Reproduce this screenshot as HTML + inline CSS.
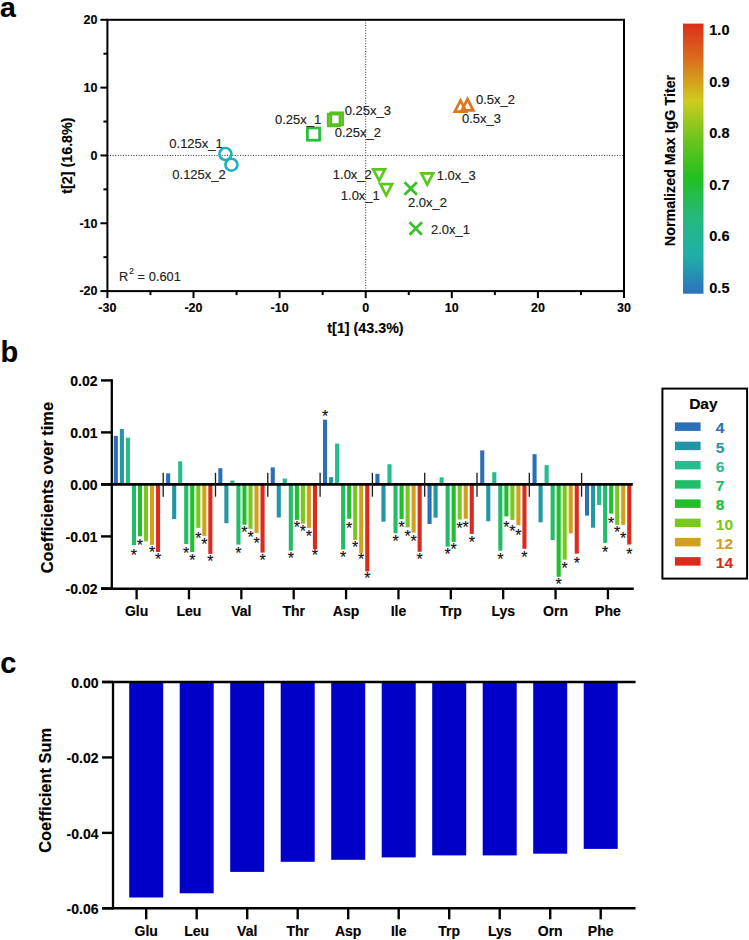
<!DOCTYPE html>
<html><head><meta charset="utf-8"><style>
html,body{margin:0;padding:0;background:#fff;width:749px;height:940px;overflow:hidden}
svg{display:block}
text{font-family:"Liberation Sans", sans-serif}
</style></head><body>
<svg width="749" height="940" viewBox="0 0 749 940">
<text x="0.1" y="16.9" font-size="28.5" font-weight="bold" stroke="#000" stroke-width="0.15">a</text>
<line x1="107.4" y1="155.45" x2="624.0" y2="155.45" stroke="#333" stroke-width="1" stroke-dasharray="1 1.6"/>
<line x1="365.70" y1="19.8" x2="365.70" y2="291.1" stroke="#333" stroke-width="1" stroke-dasharray="1 1.6"/>
<rect x="107.4" y="19.8" width="516.6" height="271.3" fill="none" stroke="#000" stroke-width="2"/>
<line x1="107.40" y1="291.1" x2="107.40" y2="298.1" stroke="#000" stroke-width="2"/>
<text x="107.40" y="312" font-size="12.5" font-weight="bold" text-anchor="middle" stroke="#000" stroke-width="0.15">-30</text>
<line x1="150.45" y1="291.1" x2="150.45" y2="295.1" stroke="#000" stroke-width="2"/>
<line x1="193.50" y1="291.1" x2="193.50" y2="298.1" stroke="#000" stroke-width="2"/>
<text x="193.50" y="312" font-size="12.5" font-weight="bold" text-anchor="middle" stroke="#000" stroke-width="0.15">-20</text>
<line x1="236.55" y1="291.1" x2="236.55" y2="295.1" stroke="#000" stroke-width="2"/>
<line x1="279.60" y1="291.1" x2="279.60" y2="298.1" stroke="#000" stroke-width="2"/>
<text x="279.60" y="312" font-size="12.5" font-weight="bold" text-anchor="middle" stroke="#000" stroke-width="0.15">-10</text>
<line x1="322.65" y1="291.1" x2="322.65" y2="295.1" stroke="#000" stroke-width="2"/>
<line x1="365.70" y1="291.1" x2="365.70" y2="298.1" stroke="#000" stroke-width="2"/>
<text x="365.70" y="312" font-size="12.5" font-weight="bold" text-anchor="middle" stroke="#000" stroke-width="0.15">0</text>
<line x1="408.75" y1="291.1" x2="408.75" y2="295.1" stroke="#000" stroke-width="2"/>
<line x1="451.80" y1="291.1" x2="451.80" y2="298.1" stroke="#000" stroke-width="2"/>
<text x="451.80" y="312" font-size="12.5" font-weight="bold" text-anchor="middle" stroke="#000" stroke-width="0.15">10</text>
<line x1="494.85" y1="291.1" x2="494.85" y2="295.1" stroke="#000" stroke-width="2"/>
<line x1="537.90" y1="291.1" x2="537.90" y2="298.1" stroke="#000" stroke-width="2"/>
<text x="537.90" y="312" font-size="12.5" font-weight="bold" text-anchor="middle" stroke="#000" stroke-width="0.15">20</text>
<line x1="580.95" y1="291.1" x2="580.95" y2="295.1" stroke="#000" stroke-width="2"/>
<line x1="624.00" y1="291.1" x2="624.00" y2="298.1" stroke="#000" stroke-width="2"/>
<text x="624.00" y="312" font-size="12.5" font-weight="bold" text-anchor="middle" stroke="#000" stroke-width="0.15">30</text>
<line x1="100.4" y1="291.10" x2="107.4" y2="291.10" stroke="#000" stroke-width="2"/>
<text x="97.5" y="295.40" font-size="12.5" font-weight="bold" text-anchor="end" stroke="#000" stroke-width="0.15">-20</text>
<line x1="103.4" y1="257.19" x2="107.4" y2="257.19" stroke="#000" stroke-width="2"/>
<line x1="100.4" y1="223.28" x2="107.4" y2="223.28" stroke="#000" stroke-width="2"/>
<text x="97.5" y="227.58" font-size="12.5" font-weight="bold" text-anchor="end" stroke="#000" stroke-width="0.15">-10</text>
<line x1="103.4" y1="189.36" x2="107.4" y2="189.36" stroke="#000" stroke-width="2"/>
<line x1="100.4" y1="155.45" x2="107.4" y2="155.45" stroke="#000" stroke-width="2"/>
<text x="97.5" y="159.75" font-size="12.5" font-weight="bold" text-anchor="end" stroke="#000" stroke-width="0.15">0</text>
<line x1="103.4" y1="121.54" x2="107.4" y2="121.54" stroke="#000" stroke-width="2"/>
<line x1="100.4" y1="87.62" x2="107.4" y2="87.62" stroke="#000" stroke-width="2"/>
<text x="97.5" y="91.92" font-size="12.5" font-weight="bold" text-anchor="end" stroke="#000" stroke-width="0.15">10</text>
<line x1="103.4" y1="53.71" x2="107.4" y2="53.71" stroke="#000" stroke-width="2"/>
<line x1="100.4" y1="19.80" x2="107.4" y2="19.80" stroke="#000" stroke-width="2"/>
<text x="97.5" y="24.10" font-size="12.5" font-weight="bold" text-anchor="end" stroke="#000" stroke-width="0.15">20</text>
<text x="365.5" y="333.3" font-size="14.3" font-weight="bold" text-anchor="middle" stroke="#000" stroke-width="0.15">t[1] (43.3%)</text>
<text transform="translate(71.9 155.6) rotate(-90)" font-size="14.3" font-weight="bold" text-anchor="middle" stroke="#000" stroke-width="0.15">t[2] (16.8%)</text>
<text x="119.1" y="280.9" font-size="12.7" fill="#222" stroke="#222" stroke-width="0.15">R</text>
<text x="129.3" y="274.1" font-size="8.2" fill="#222" stroke="#222" stroke-width="0.15">2</text>
<text x="137.4" y="280.9" font-size="12.7" fill="#222" stroke="#222" stroke-width="0.15">=</text>
<text x="148.8" y="280.9" font-size="12.8" fill="#222" stroke="#222" stroke-width="0.15">0.601</text>
<circle cx="225.4" cy="154" r="6" fill="none" stroke="#1fb1b9" stroke-width="2.6"/>
<circle cx="231.4" cy="164.7" r="6" fill="none" stroke="#1fb1b9" stroke-width="2.6"/>
<rect x="307.4" y="128.0" width="12.2" height="12.2" fill="none" stroke="#24be3a" stroke-width="2.7"/>
<rect x="330.8" y="112.8" width="11.8" height="11.8" fill="none" stroke="#58c01c" stroke-width="2.7"/>
<rect x="328.2" y="114.1" width="11.8" height="11.8" fill="none" stroke="#58c01c" stroke-width="2.7"/>
<path d="M454.80 111.60 L460.50 100.40 L466.20 111.60 Z" fill="none" stroke="#e0761c" stroke-width="2.7" stroke-linejoin="miter"/>
<path d="M461.80 110.30 L467.50 99.10 L473.20 110.30 Z" fill="none" stroke="#e0761c" stroke-width="2.7" stroke-linejoin="miter"/>
<path d="M373.20 169.40 L379.10 180.60 L385.00 169.40 Z" fill="none" stroke="#5cc81e" stroke-width="2.7"/>
<path d="M380.30 184.10 L386.20 195.30 L392.10 184.10 Z" fill="none" stroke="#5cc81e" stroke-width="2.7"/>
<path d="M421.30 173.40 L427.20 184.60 L433.10 173.40 Z" fill="none" stroke="#5cc81e" stroke-width="2.7"/>
<path d="M404.50 182.30 L416.90 194.70 M404.50 194.70 L416.90 182.30" fill="none" stroke="#38c22a" stroke-width="2.7"/>
<path d="M409.50 222.30 L421.90 234.70 M409.50 234.70 L421.90 222.30" fill="none" stroke="#38c22a" stroke-width="2.7"/>
<text x="169.3" y="148.0" font-size="13" fill="#222" stroke="#222" stroke-width="0.15">0.125x_1</text>
<text x="172.3" y="179.0" font-size="13" fill="#222" stroke="#222" stroke-width="0.15">0.125x_2</text>
<text x="275.0" y="124.2" font-size="13" fill="#222" stroke="#222" stroke-width="0.15">0.25x_1</text>
<text x="344.7" y="114.7" font-size="13" fill="#222" stroke="#222" stroke-width="0.15">0.25x_3</text>
<text x="334.7" y="136.5" font-size="13" fill="#222" stroke="#222" stroke-width="0.15">0.25x_2</text>
<text x="476.0" y="104.0" font-size="13" fill="#222" stroke="#222" stroke-width="0.15">0.5x_2</text>
<text x="462.0" y="123.0" font-size="13" fill="#222" stroke="#222" stroke-width="0.15">0.5x_3</text>
<text x="332.8" y="179.4" font-size="13" fill="#222" stroke="#222" stroke-width="0.15">1.0x_2</text>
<text x="340.8" y="200.3" font-size="13" fill="#222" stroke="#222" stroke-width="0.15">1.0x_1</text>
<text x="436.7" y="180.0" font-size="13" fill="#222" stroke="#222" stroke-width="0.15">1.0x_3</text>
<text x="408.0" y="206.7" font-size="13" fill="#222" stroke="#222" stroke-width="0.15">2.0x_2</text>
<text x="431.0" y="233.8" font-size="13" fill="#222" stroke="#222" stroke-width="0.15">2.0x_1</text>
<defs><linearGradient id="cb" x1="0" y1="1" x2="0" y2="0"><stop offset="0" stop-color="#2d70be"/><stop offset="0.142857" stop-color="#1fb0a8"/><stop offset="0.285714" stop-color="#26b87c"/><stop offset="0.428571" stop-color="#22c022"/><stop offset="0.571429" stop-color="#6cc41e"/><stop offset="0.714286" stop-color="#cfcc1e"/><stop offset="0.857143" stop-color="#d9741c"/><stop offset="1" stop-color="#dc2e1c"/></linearGradient></defs>
<rect x="683" y="23.6" width="20.5" height="270.1" fill="url(#cb)"/>
<text x="709.3" y="35.40" font-size="14.5" font-weight="bold" stroke="#000" stroke-width="0.15">1.0</text>
<text x="709.3" y="86.85" font-size="14.5" font-weight="bold" stroke="#000" stroke-width="0.15">0.9</text>
<text x="709.3" y="138.30" font-size="14.5" font-weight="bold" stroke="#000" stroke-width="0.15">0.8</text>
<text x="709.3" y="189.75" font-size="14.5" font-weight="bold" stroke="#000" stroke-width="0.15">0.7</text>
<text x="709.3" y="241.20" font-size="14.5" font-weight="bold" stroke="#000" stroke-width="0.15">0.6</text>
<text x="709.3" y="292.65" font-size="14.5" font-weight="bold" stroke="#000" stroke-width="0.15">0.5</text>
<text transform="translate(675.2 160.5) rotate(-90)" font-size="14.3" font-weight="bold" text-anchor="middle" stroke="#000" stroke-width="0.15">Normalized Max IgG Titer</text>
<text x="0.5" y="362.0" font-size="29" font-weight="bold" stroke="#000" stroke-width="0.15">b</text>
<line x1="101" y1="380.40" x2="111.8" y2="380.40" stroke="#000" stroke-width="2.4"/>
<text x="97.5" y="386.20" font-size="14" font-weight="bold" text-anchor="end" stroke="#000" stroke-width="0.15">0.02</text>
<line x1="101" y1="432.40" x2="111.8" y2="432.40" stroke="#000" stroke-width="2.4"/>
<text x="97.5" y="438.20" font-size="14" font-weight="bold" text-anchor="end" stroke="#000" stroke-width="0.15">0.01</text>
<line x1="101" y1="484.40" x2="111.8" y2="484.40" stroke="#000" stroke-width="2.4"/>
<text x="97.5" y="490.20" font-size="14" font-weight="bold" text-anchor="end" stroke="#000" stroke-width="0.15">0.00</text>
<line x1="101" y1="536.40" x2="111.8" y2="536.40" stroke="#000" stroke-width="2.4"/>
<text x="97.5" y="542.20" font-size="14" font-weight="bold" text-anchor="end" stroke="#000" stroke-width="0.15">-0.01</text>
<line x1="101" y1="588.40" x2="111.8" y2="588.40" stroke="#000" stroke-width="2.4"/>
<text x="97.5" y="594.20" font-size="14" font-weight="bold" text-anchor="end" stroke="#000" stroke-width="0.15">-0.02</text>
<text transform="translate(52.8 487.6) rotate(-90)" font-size="16.4" font-weight="bold" text-anchor="middle" stroke="#000" stroke-width="0.15">Coefficients over time</text>
<rect x="113.80" y="435.80" width="4.1" height="48.60" fill="#2a70b7"/>
<rect x="119.83" y="429.00" width="4.1" height="55.40" fill="#2196a6"/>
<rect x="125.86" y="437.70" width="4.1" height="46.70" fill="#24bd90"/>
<rect x="131.89" y="484.40" width="4.1" height="60.70" fill="#22bd68"/>
<text x="133.94" y="560.60" font-size="16" text-anchor="middle" fill="#111" stroke="#111" stroke-width="0.15">*</text>
<rect x="137.92" y="484.40" width="4.1" height="51.90" fill="#1fc02c"/>
<text x="139.97" y="550.60" font-size="16" text-anchor="middle" fill="#111" stroke="#111" stroke-width="0.15">*</text>
<rect x="143.95" y="484.40" width="4.1" height="57.00" fill="#7ac81c"/>
<rect x="149.98" y="484.40" width="4.1" height="60.40" fill="#d2a01a"/>
<text x="152.03" y="557.80" font-size="16" text-anchor="middle" fill="#111" stroke="#111" stroke-width="0.15">*</text>
<rect x="156.01" y="484.40" width="4.1" height="67.60" fill="#de2a1c"/>
<text x="158.06" y="564.80" font-size="16" text-anchor="middle" fill="#111" stroke="#111" stroke-width="0.15">*</text>
<rect x="166.10" y="473.30" width="4.1" height="11.10" fill="#2a70b7"/>
<rect x="172.13" y="484.40" width="4.1" height="34.70" fill="#2196a6"/>
<rect x="178.16" y="461.30" width="4.1" height="23.10" fill="#24bd90"/>
<rect x="184.19" y="484.40" width="4.1" height="59.60" fill="#22bd68"/>
<text x="186.24" y="558.70" font-size="16" text-anchor="middle" fill="#111" stroke="#111" stroke-width="0.15">*</text>
<rect x="190.22" y="484.40" width="4.1" height="67.60" fill="#1fc02c"/>
<text x="192.27" y="566.20" font-size="16" text-anchor="middle" fill="#111" stroke="#111" stroke-width="0.15">*</text>
<rect x="196.25" y="484.40" width="4.1" height="43.50" fill="#7ac81c"/>
<text x="198.30" y="543.80" font-size="16" text-anchor="middle" fill="#111" stroke="#111" stroke-width="0.15">*</text>
<rect x="202.28" y="484.40" width="4.1" height="51.50" fill="#d2a01a"/>
<text x="204.33" y="549.90" font-size="16" text-anchor="middle" fill="#111" stroke="#111" stroke-width="0.15">*</text>
<rect x="208.31" y="484.40" width="4.1" height="69.50" fill="#de2a1c"/>
<text x="210.36" y="567.30" font-size="16" text-anchor="middle" fill="#111" stroke="#111" stroke-width="0.15">*</text>
<rect x="218.30" y="468.20" width="4.1" height="16.20" fill="#2a70b7"/>
<rect x="224.33" y="484.40" width="4.1" height="38.80" fill="#2196a6"/>
<rect x="230.36" y="480.50" width="4.1" height="3.90" fill="#24bd90"/>
<rect x="236.39" y="484.40" width="4.1" height="60.20" fill="#22bd68"/>
<text x="238.44" y="559.00" font-size="16" text-anchor="middle" fill="#111" stroke="#111" stroke-width="0.15">*</text>
<rect x="242.42" y="484.40" width="4.1" height="40.40" fill="#1fc02c"/>
<text x="244.47" y="538.30" font-size="16" text-anchor="middle" fill="#111" stroke="#111" stroke-width="0.15">*</text>
<rect x="248.45" y="484.40" width="4.1" height="44.40" fill="#7ac81c"/>
<text x="250.50" y="542.70" font-size="16" text-anchor="middle" fill="#111" stroke="#111" stroke-width="0.15">*</text>
<rect x="254.48" y="484.40" width="4.1" height="48.70" fill="#d2a01a"/>
<text x="256.53" y="548.60" font-size="16" text-anchor="middle" fill="#111" stroke="#111" stroke-width="0.15">*</text>
<rect x="260.51" y="484.40" width="4.1" height="68.20" fill="#de2a1c"/>
<text x="262.56" y="566.20" font-size="16" text-anchor="middle" fill="#111" stroke="#111" stroke-width="0.15">*</text>
<rect x="270.70" y="467.40" width="4.1" height="17.00" fill="#2a70b7"/>
<rect x="276.73" y="484.40" width="4.1" height="33.10" fill="#2196a6"/>
<rect x="282.76" y="478.50" width="4.1" height="5.90" fill="#24bd90"/>
<rect x="288.79" y="484.40" width="4.1" height="66.30" fill="#22bd68"/>
<text x="290.84" y="563.50" font-size="16" text-anchor="middle" fill="#111" stroke="#111" stroke-width="0.15">*</text>
<rect x="294.82" y="484.40" width="4.1" height="35.50" fill="#1fc02c"/>
<text x="296.87" y="533.10" font-size="16" text-anchor="middle" fill="#111" stroke="#111" stroke-width="0.15">*</text>
<rect x="300.85" y="484.40" width="4.1" height="39.20" fill="#7ac81c"/>
<text x="302.90" y="537.40" font-size="16" text-anchor="middle" fill="#111" stroke="#111" stroke-width="0.15">*</text>
<rect x="306.88" y="484.40" width="4.1" height="43.50" fill="#d2a01a"/>
<text x="308.93" y="542.20" font-size="16" text-anchor="middle" fill="#111" stroke="#111" stroke-width="0.15">*</text>
<rect x="312.91" y="484.40" width="4.1" height="64.70" fill="#de2a1c"/>
<text x="314.96" y="560.90" font-size="16" text-anchor="middle" fill="#111" stroke="#111" stroke-width="0.15">*</text>
<rect x="323.00" y="419.70" width="4.1" height="64.70" fill="#2a70b7"/>
<text x="325.05" y="421.70" font-size="16" text-anchor="middle" fill="#111" stroke="#111" stroke-width="0.15">*</text>
<rect x="329.03" y="477.20" width="4.1" height="7.20" fill="#2196a6"/>
<rect x="335.06" y="443.50" width="4.1" height="40.90" fill="#24bd90"/>
<rect x="341.09" y="484.40" width="4.1" height="65.10" fill="#22bd68"/>
<text x="343.14" y="562.60" font-size="16" text-anchor="middle" fill="#111" stroke="#111" stroke-width="0.15">*</text>
<rect x="347.12" y="484.40" width="4.1" height="34.40" fill="#1fc02c"/>
<text x="349.17" y="533.80" font-size="16" text-anchor="middle" fill="#111" stroke="#111" stroke-width="0.15">*</text>
<rect x="353.15" y="484.40" width="4.1" height="55.50" fill="#7ac81c"/>
<text x="355.20" y="553.00" font-size="16" text-anchor="middle" fill="#111" stroke="#111" stroke-width="0.15">*</text>
<rect x="359.18" y="484.40" width="4.1" height="68.50" fill="#d2a01a"/>
<text x="361.23" y="565.40" font-size="16" text-anchor="middle" fill="#111" stroke="#111" stroke-width="0.15">*</text>
<rect x="365.21" y="484.40" width="4.1" height="87.10" fill="#de2a1c"/>
<text x="367.26" y="584.20" font-size="16" text-anchor="middle" fill="#111" stroke="#111" stroke-width="0.15">*</text>
<rect x="375.40" y="473.80" width="4.1" height="10.60" fill="#2a70b7"/>
<rect x="381.43" y="484.40" width="4.1" height="37.30" fill="#2196a6"/>
<rect x="387.46" y="464.20" width="4.1" height="20.20" fill="#24bd90"/>
<rect x="393.49" y="484.40" width="4.1" height="48.80" fill="#22bd68"/>
<text x="395.54" y="547.20" font-size="16" text-anchor="middle" fill="#111" stroke="#111" stroke-width="0.15">*</text>
<rect x="399.52" y="484.40" width="4.1" height="34.80" fill="#1fc02c"/>
<text x="401.57" y="533.30" font-size="16" text-anchor="middle" fill="#111" stroke="#111" stroke-width="0.15">*</text>
<rect x="405.55" y="484.40" width="4.1" height="43.00" fill="#7ac81c"/>
<text x="407.60" y="541.50" font-size="16" text-anchor="middle" fill="#111" stroke="#111" stroke-width="0.15">*</text>
<rect x="411.58" y="484.40" width="4.1" height="48.20" fill="#d2a01a"/>
<text x="413.63" y="547.20" font-size="16" text-anchor="middle" fill="#111" stroke="#111" stroke-width="0.15">*</text>
<rect x="417.61" y="484.40" width="4.1" height="67.40" fill="#de2a1c"/>
<text x="419.66" y="565.40" font-size="16" text-anchor="middle" fill="#111" stroke="#111" stroke-width="0.15">*</text>
<rect x="427.50" y="484.40" width="4.1" height="39.60" fill="#2a70b7"/>
<rect x="433.53" y="484.40" width="4.1" height="33.30" fill="#2196a6"/>
<rect x="439.56" y="477.30" width="4.1" height="7.10" fill="#24bd90"/>
<rect x="445.59" y="484.40" width="4.1" height="62.30" fill="#22bd68"/>
<text x="447.64" y="560.30" font-size="16" text-anchor="middle" fill="#111" stroke="#111" stroke-width="0.15">*</text>
<rect x="451.62" y="484.40" width="4.1" height="57.50" fill="#1fc02c"/>
<text x="453.67" y="554.50" font-size="16" text-anchor="middle" fill="#111" stroke="#111" stroke-width="0.15">*</text>
<rect x="457.65" y="484.40" width="4.1" height="35.20" fill="#7ac81c"/>
<text x="459.70" y="533.50" font-size="16" text-anchor="middle" fill="#111" stroke="#111" stroke-width="0.15">*</text>
<rect x="463.68" y="484.40" width="4.1" height="34.40" fill="#d2a01a"/>
<text x="465.73" y="532.70" font-size="16" text-anchor="middle" fill="#111" stroke="#111" stroke-width="0.15">*</text>
<rect x="469.71" y="484.40" width="4.1" height="49.50" fill="#de2a1c"/>
<text x="471.76" y="547.50" font-size="16" text-anchor="middle" fill="#111" stroke="#111" stroke-width="0.15">*</text>
<rect x="480.20" y="450.40" width="4.1" height="34.00" fill="#2a70b7"/>
<rect x="486.23" y="484.40" width="4.1" height="36.80" fill="#2196a6"/>
<rect x="492.26" y="472.20" width="4.1" height="12.20" fill="#24bd90"/>
<rect x="498.29" y="484.40" width="4.1" height="66.30" fill="#22bd68"/>
<text x="500.34" y="564.60" font-size="16" text-anchor="middle" fill="#111" stroke="#111" stroke-width="0.15">*</text>
<rect x="504.32" y="484.40" width="4.1" height="32.00" fill="#1fc02c"/>
<text x="506.37" y="532.70" font-size="16" text-anchor="middle" fill="#111" stroke="#111" stroke-width="0.15">*</text>
<rect x="510.35" y="484.40" width="4.1" height="35.50" fill="#7ac81c"/>
<text x="512.40" y="536.60" font-size="16" text-anchor="middle" fill="#111" stroke="#111" stroke-width="0.15">*</text>
<rect x="516.38" y="484.40" width="4.1" height="40.80" fill="#d2a01a"/>
<text x="518.43" y="541.10" font-size="16" text-anchor="middle" fill="#111" stroke="#111" stroke-width="0.15">*</text>
<rect x="522.41" y="484.40" width="4.1" height="64.40" fill="#de2a1c"/>
<text x="524.46" y="563.00" font-size="16" text-anchor="middle" fill="#111" stroke="#111" stroke-width="0.15">*</text>
<rect x="532.50" y="454.20" width="4.1" height="30.20" fill="#2a70b7"/>
<rect x="538.53" y="484.40" width="4.1" height="37.90" fill="#2196a6"/>
<rect x="544.56" y="465.10" width="4.1" height="19.30" fill="#24bd90"/>
<rect x="550.59" y="484.40" width="4.1" height="55.70" fill="#22bd68"/>
<rect x="556.62" y="484.40" width="4.1" height="92.40" fill="#1fc02c"/>
<text x="558.67" y="590.20" font-size="16" text-anchor="middle" fill="#111" stroke="#111" stroke-width="0.15">*</text>
<rect x="562.65" y="484.40" width="4.1" height="75.30" fill="#7ac81c"/>
<text x="564.70" y="573.60" font-size="16" text-anchor="middle" fill="#111" stroke="#111" stroke-width="0.15">*</text>
<rect x="568.68" y="484.40" width="4.1" height="49.00" fill="#d2a01a"/>
<rect x="574.71" y="484.40" width="4.1" height="69.20" fill="#de2a1c"/>
<text x="576.76" y="569.00" font-size="16" text-anchor="middle" fill="#111" stroke="#111" stroke-width="0.15">*</text>
<rect x="585.00" y="484.40" width="4.1" height="31.20" fill="#2a70b7"/>
<rect x="591.03" y="484.40" width="4.1" height="43.30" fill="#2196a6"/>
<rect x="597.06" y="484.40" width="4.1" height="20.70" fill="#24bd90"/>
<rect x="603.09" y="484.40" width="4.1" height="58.50" fill="#22bd68"/>
<text x="605.14" y="557.50" font-size="16" text-anchor="middle" fill="#111" stroke="#111" stroke-width="0.15">*</text>
<rect x="609.12" y="484.40" width="4.1" height="29.20" fill="#1fc02c"/>
<text x="611.17" y="528.50" font-size="16" text-anchor="middle" fill="#111" stroke="#111" stroke-width="0.15">*</text>
<rect x="615.15" y="484.40" width="4.1" height="40.50" fill="#7ac81c"/>
<text x="617.20" y="538.00" font-size="16" text-anchor="middle" fill="#111" stroke="#111" stroke-width="0.15">*</text>
<rect x="621.18" y="484.40" width="4.1" height="40.50" fill="#d2a01a"/>
<text x="623.23" y="544.10" font-size="16" text-anchor="middle" fill="#111" stroke="#111" stroke-width="0.15">*</text>
<rect x="627.21" y="484.40" width="4.1" height="60.10" fill="#de2a1c"/>
<text x="629.26" y="559.90" font-size="16" text-anchor="middle" fill="#111" stroke="#111" stroke-width="0.15">*</text>
<line x1="101" y1="484.4" x2="632.8" y2="484.4" stroke="#000" stroke-width="2.6"/>
<line x1="163.20" y1="472.8" x2="163.20" y2="496.7" stroke="#1a1a1a" stroke-width="1.3"/>
<line x1="215.50" y1="472.8" x2="215.50" y2="496.7" stroke="#1a1a1a" stroke-width="1.3"/>
<line x1="267.80" y1="472.8" x2="267.80" y2="496.7" stroke="#1a1a1a" stroke-width="1.3"/>
<line x1="320.10" y1="472.8" x2="320.10" y2="496.7" stroke="#1a1a1a" stroke-width="1.3"/>
<line x1="372.40" y1="472.8" x2="372.40" y2="496.7" stroke="#1a1a1a" stroke-width="1.3"/>
<line x1="424.70" y1="472.8" x2="424.70" y2="496.7" stroke="#1a1a1a" stroke-width="1.3"/>
<line x1="477.00" y1="472.8" x2="477.00" y2="496.7" stroke="#1a1a1a" stroke-width="1.3"/>
<line x1="529.30" y1="472.8" x2="529.30" y2="496.7" stroke="#1a1a1a" stroke-width="1.3"/>
<line x1="581.60" y1="472.8" x2="581.60" y2="496.7" stroke="#1a1a1a" stroke-width="1.3"/>
<line x1="111.8" y1="379.2" x2="111.8" y2="589.7" stroke="#000" stroke-width="2.3"/>
<line x1="101" y1="588.7" x2="633.8" y2="588.7" stroke="#000" stroke-width="2.5"/>
<line x1="136.60" y1="588.7" x2="136.60" y2="599.3" stroke="#000" stroke-width="2.3"/>
<text x="136.60" y="615.7" font-size="14" font-weight="bold" text-anchor="middle" stroke="#000" stroke-width="0.15">Glu</text>
<line x1="188.97" y1="588.7" x2="188.97" y2="599.3" stroke="#000" stroke-width="2.3"/>
<text x="188.97" y="615.7" font-size="14" font-weight="bold" text-anchor="middle" stroke="#000" stroke-width="0.15">Leu</text>
<line x1="241.34" y1="588.7" x2="241.34" y2="599.3" stroke="#000" stroke-width="2.3"/>
<text x="241.34" y="615.7" font-size="14" font-weight="bold" text-anchor="middle" stroke="#000" stroke-width="0.15">Val</text>
<line x1="293.71" y1="588.7" x2="293.71" y2="599.3" stroke="#000" stroke-width="2.3"/>
<text x="293.71" y="615.7" font-size="14" font-weight="bold" text-anchor="middle" stroke="#000" stroke-width="0.15">Thr</text>
<line x1="346.08" y1="588.7" x2="346.08" y2="599.3" stroke="#000" stroke-width="2.3"/>
<text x="346.08" y="615.7" font-size="14" font-weight="bold" text-anchor="middle" stroke="#000" stroke-width="0.15">Asp</text>
<line x1="398.45" y1="588.7" x2="398.45" y2="599.3" stroke="#000" stroke-width="2.3"/>
<text x="398.45" y="615.7" font-size="14" font-weight="bold" text-anchor="middle" stroke="#000" stroke-width="0.15">Ile</text>
<line x1="450.82" y1="588.7" x2="450.82" y2="599.3" stroke="#000" stroke-width="2.3"/>
<text x="450.82" y="615.7" font-size="14" font-weight="bold" text-anchor="middle" stroke="#000" stroke-width="0.15">Trp</text>
<line x1="503.19" y1="588.7" x2="503.19" y2="599.3" stroke="#000" stroke-width="2.3"/>
<text x="503.19" y="615.7" font-size="14" font-weight="bold" text-anchor="middle" stroke="#000" stroke-width="0.15">Lys</text>
<line x1="555.56" y1="588.7" x2="555.56" y2="599.3" stroke="#000" stroke-width="2.3"/>
<text x="555.56" y="615.7" font-size="14" font-weight="bold" text-anchor="middle" stroke="#000" stroke-width="0.15">Orn</text>
<line x1="607.93" y1="588.7" x2="607.93" y2="599.3" stroke="#000" stroke-width="2.3"/>
<text x="607.93" y="615.7" font-size="14" font-weight="bold" text-anchor="middle" stroke="#000" stroke-width="0.15">Phe</text>
<rect x="662.4" y="388.6" width="84.7" height="190" fill="none" stroke="#000" stroke-width="2"/>
<text x="703.4" y="409.2" font-size="15.5" font-weight="bold" text-anchor="middle" stroke="#000" stroke-width="0.15">Day</text>
<rect x="674.9" y="422.40" width="25.7" height="8.5" fill="#2a70b7"/>
<text x="715.8" y="433.40" font-size="15.5" font-weight="bold" fill="#2a70b7" stroke="#2a70b7" stroke-width="0.15">4</text>
<rect x="674.9" y="441.65" width="25.7" height="8.5" fill="#2196a6"/>
<text x="715.8" y="452.65" font-size="15.5" font-weight="bold" fill="#2196a6" stroke="#2196a6" stroke-width="0.15">5</text>
<rect x="674.9" y="460.90" width="25.7" height="8.5" fill="#24bd90"/>
<text x="715.8" y="471.90" font-size="15.5" font-weight="bold" fill="#24bd90" stroke="#24bd90" stroke-width="0.15">6</text>
<rect x="674.9" y="480.15" width="25.7" height="8.5" fill="#22bd68"/>
<text x="715.8" y="491.15" font-size="15.5" font-weight="bold" fill="#22bd68" stroke="#22bd68" stroke-width="0.15">7</text>
<rect x="674.9" y="499.40" width="25.7" height="8.5" fill="#1fc02c"/>
<text x="715.8" y="510.40" font-size="15.5" font-weight="bold" fill="#1fc02c" stroke="#1fc02c" stroke-width="0.15">8</text>
<rect x="674.9" y="518.65" width="25.7" height="8.5" fill="#7ac81c"/>
<text x="715.8" y="529.65" font-size="15.5" font-weight="bold" fill="#7ac81c" stroke="#7ac81c" stroke-width="0.15">10</text>
<rect x="674.9" y="537.90" width="25.7" height="8.5" fill="#d2a01a"/>
<text x="715.8" y="548.90" font-size="15.5" font-weight="bold" fill="#d2a01a" stroke="#d2a01a" stroke-width="0.15">12</text>
<rect x="674.9" y="557.15" width="25.7" height="8.5" fill="#de2a1c"/>
<text x="715.8" y="568.15" font-size="15.5" font-weight="bold" fill="#de2a1c" stroke="#de2a1c" stroke-width="0.15">14</text>
<text x="0.3" y="673.3" font-size="29" font-weight="bold" stroke="#000" stroke-width="0.15">c</text>
<rect x="129.20" y="682.0" width="34" height="215.50" fill="#0000c8"/>
<rect x="179.70" y="682.0" width="34" height="211.30" fill="#0000c8"/>
<rect x="230.20" y="682.0" width="34" height="189.90" fill="#0000c8"/>
<rect x="280.70" y="682.0" width="34" height="179.80" fill="#0000c8"/>
<rect x="331.20" y="682.0" width="34" height="177.80" fill="#0000c8"/>
<rect x="381.70" y="682.0" width="34" height="175.40" fill="#0000c8"/>
<rect x="432.20" y="682.0" width="34" height="173.40" fill="#0000c8"/>
<rect x="482.70" y="682.0" width="34" height="173.40" fill="#0000c8"/>
<rect x="533.20" y="682.0" width="34" height="171.70" fill="#0000c8"/>
<rect x="583.70" y="682.0" width="34" height="166.90" fill="#0000c8"/>
<line x1="102" y1="682.00" x2="113.0" y2="682.00" stroke="#000" stroke-width="2.4"/>
<text x="98.5" y="687.70" font-size="14" font-weight="bold" text-anchor="end" stroke="#000" stroke-width="0.15">0.00</text>
<line x1="102" y1="757.43" x2="113.0" y2="757.43" stroke="#000" stroke-width="2.4"/>
<text x="98.5" y="763.13" font-size="14" font-weight="bold" text-anchor="end" stroke="#000" stroke-width="0.15">-0.02</text>
<line x1="102" y1="832.87" x2="113.0" y2="832.87" stroke="#000" stroke-width="2.4"/>
<text x="98.5" y="838.57" font-size="14" font-weight="bold" text-anchor="end" stroke="#000" stroke-width="0.15">-0.04</text>
<line x1="102" y1="908.30" x2="113.0" y2="908.30" stroke="#000" stroke-width="2.4"/>
<text x="98.5" y="914.00" font-size="14" font-weight="bold" text-anchor="end" stroke="#000" stroke-width="0.15">-0.06</text>
<line x1="102" y1="682.0" x2="635.6" y2="682.0" stroke="#000" stroke-width="2.5"/>
<line x1="113.0" y1="681.0" x2="113.0" y2="909.3" stroke="#000" stroke-width="2.3"/>
<line x1="102" y1="908.3" x2="635.6" y2="908.3" stroke="#000" stroke-width="2.5"/>
<line x1="146.20" y1="908.3" x2="146.20" y2="919.3" stroke="#000" stroke-width="2.4"/>
<text x="146.20" y="935.6" font-size="14" font-weight="bold" text-anchor="middle" stroke="#000" stroke-width="0.15">Glu</text>
<line x1="196.70" y1="908.3" x2="196.70" y2="919.3" stroke="#000" stroke-width="2.4"/>
<text x="196.70" y="935.6" font-size="14" font-weight="bold" text-anchor="middle" stroke="#000" stroke-width="0.15">Leu</text>
<line x1="247.20" y1="908.3" x2="247.20" y2="919.3" stroke="#000" stroke-width="2.4"/>
<text x="247.20" y="935.6" font-size="14" font-weight="bold" text-anchor="middle" stroke="#000" stroke-width="0.15">Val</text>
<line x1="297.70" y1="908.3" x2="297.70" y2="919.3" stroke="#000" stroke-width="2.4"/>
<text x="297.70" y="935.6" font-size="14" font-weight="bold" text-anchor="middle" stroke="#000" stroke-width="0.15">Thr</text>
<line x1="348.20" y1="908.3" x2="348.20" y2="919.3" stroke="#000" stroke-width="2.4"/>
<text x="348.20" y="935.6" font-size="14" font-weight="bold" text-anchor="middle" stroke="#000" stroke-width="0.15">Asp</text>
<line x1="398.70" y1="908.3" x2="398.70" y2="919.3" stroke="#000" stroke-width="2.4"/>
<text x="398.70" y="935.6" font-size="14" font-weight="bold" text-anchor="middle" stroke="#000" stroke-width="0.15">Ile</text>
<line x1="449.20" y1="908.3" x2="449.20" y2="919.3" stroke="#000" stroke-width="2.4"/>
<text x="449.20" y="935.6" font-size="14" font-weight="bold" text-anchor="middle" stroke="#000" stroke-width="0.15">Trp</text>
<line x1="499.70" y1="908.3" x2="499.70" y2="919.3" stroke="#000" stroke-width="2.4"/>
<text x="499.70" y="935.6" font-size="14" font-weight="bold" text-anchor="middle" stroke="#000" stroke-width="0.15">Lys</text>
<line x1="550.20" y1="908.3" x2="550.20" y2="919.3" stroke="#000" stroke-width="2.4"/>
<text x="550.20" y="935.6" font-size="14" font-weight="bold" text-anchor="middle" stroke="#000" stroke-width="0.15">Orn</text>
<line x1="600.70" y1="908.3" x2="600.70" y2="919.3" stroke="#000" stroke-width="2.4"/>
<text x="600.70" y="935.6" font-size="14" font-weight="bold" text-anchor="middle" stroke="#000" stroke-width="0.15">Phe</text>
<text transform="translate(51.3 790.4) rotate(-90)" font-size="16.4" font-weight="bold" text-anchor="middle" stroke="#000" stroke-width="0.15">Coefficient Sum</text>
</svg></body></html>
